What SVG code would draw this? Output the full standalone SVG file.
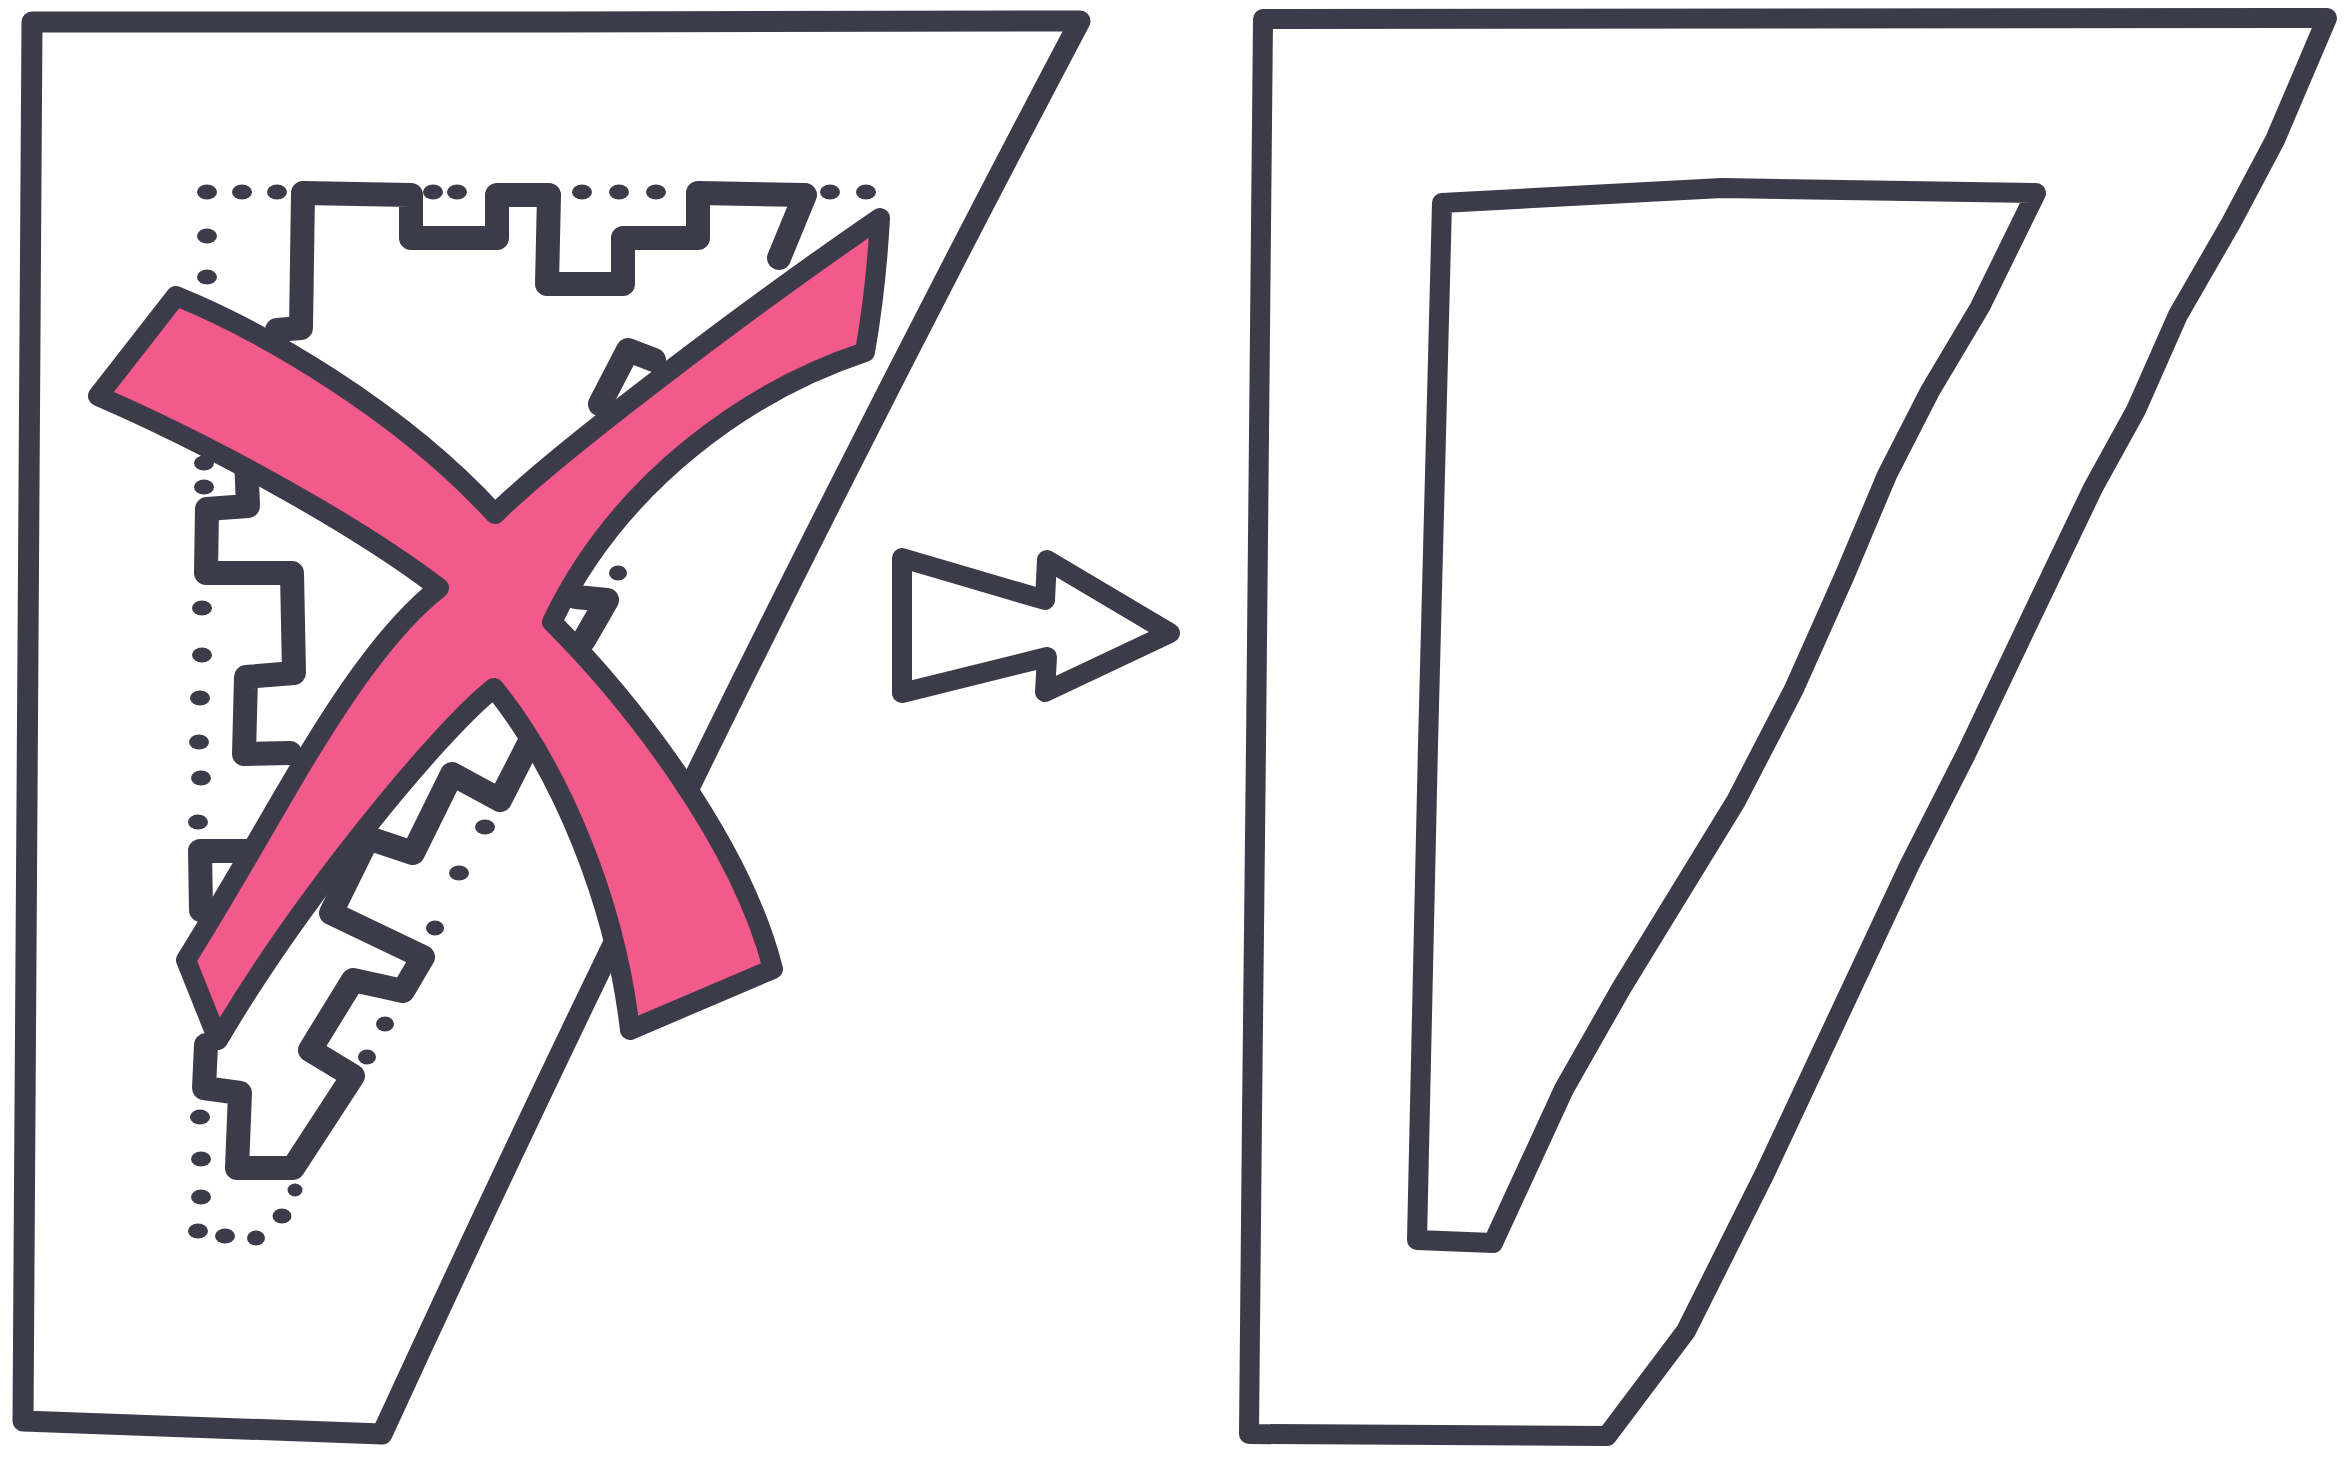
<svg xmlns="http://www.w3.org/2000/svg" width="2345" height="1460" viewBox="0 0 2345 1460">
<style>
.ink{fill:none;stroke:#3c3b4a;stroke-linejoin:round;stroke-linecap:round}
.frame{stroke-width:21px}
.thin{stroke-width:20px}
.castle{stroke-width:24px}
.cross{fill:#f15a8a;stroke:#3c3b4a;stroke-width:20px;stroke-linejoin:round}
.dot{fill:#3c3b4a}
</style>
<rect width="2345" height="1460" fill="#ffffff"/>
<g id="left-panel">
<path class="ink frame" d="M32,22 L560,22 L1080,21 Q707,727 382,1434 L23,1421 Z"/>
</g>
<g id="site-boundary-dots">
<ellipse class="dot" cx="207" cy="192" rx="10" ry="7.5"/>
<ellipse class="dot" cx="242" cy="192" rx="10" ry="7.5"/>
<ellipse class="dot" cx="277" cy="192" rx="10" ry="7.5"/>
<ellipse class="dot" cx="433" cy="192" rx="10" ry="7.5"/>
<ellipse class="dot" cx="457" cy="192" rx="10" ry="7.5"/>
<ellipse class="dot" cx="582" cy="192" rx="10" ry="7.5"/>
<ellipse class="dot" cx="619" cy="192" rx="10" ry="7.5"/>
<ellipse class="dot" cx="656" cy="192" rx="10" ry="7.5"/>
<ellipse class="dot" cx="830" cy="192" rx="10" ry="7.5"/>
<ellipse class="dot" cx="866" cy="192" rx="10" ry="7.5"/>
<ellipse class="dot" cx="207" cy="236" rx="10" ry="7.5"/>
<ellipse class="dot" cx="207" cy="277" rx="10" ry="7.5"/>
<ellipse class="dot" cx="204" cy="463" rx="10" ry="7.5"/>
<ellipse class="dot" cx="204" cy="487" rx="10" ry="7.5"/>
<ellipse class="dot" cx="202" cy="608" rx="10" ry="7.5"/>
<ellipse class="dot" cx="202" cy="655" rx="10" ry="7.5"/>
<ellipse class="dot" cx="200" cy="698" rx="10" ry="7.5"/>
<ellipse class="dot" cx="199" cy="742" rx="10" ry="7.5"/>
<ellipse class="dot" cx="201" cy="778" rx="10" ry="7.5"/>
<ellipse class="dot" cx="198" cy="822" rx="10" ry="7.5"/>
<ellipse class="dot" cx="200" cy="1117" rx="10" ry="7.5"/>
<ellipse class="dot" cx="201" cy="1159" rx="10" ry="7.5"/>
<ellipse class="dot" cx="201" cy="1197" rx="10" ry="7.5"/>
<ellipse class="dot" cx="198" cy="1231" rx="10" ry="7.5"/>
<ellipse class="dot" cx="225" cy="1236" rx="10" ry="7.5"/>
<ellipse class="dot" cx="256" cy="1238" rx="9" ry="7.5"/>
<ellipse class="dot" cx="282" cy="1216" rx="9.5" ry="7.5"/>
<ellipse class="dot" cx="295" cy="1190" rx="7.5" ry="6.5"/>
<ellipse class="dot" cx="367" cy="1057" rx="9" ry="7.5"/>
<ellipse class="dot" cx="385" cy="1024" rx="9" ry="7.5"/>
<ellipse class="dot" cx="435" cy="928" rx="9" ry="7.5"/>
<ellipse class="dot" cx="459" cy="873" rx="10" ry="7.5"/>
<ellipse class="dot" cx="485" cy="827" rx="10" ry="7.5"/>
<ellipse class="dot" cx="618" cy="573" rx="9" ry="7.5"/>
</g>
<g id="castle">
<path class="ink castle" d="M277,330 L301,328 L303,193 L411,195 L411,238 L497,238 L497,195 L549,195 L547,284 L623,284 L623,238 L698,238 L698,193 L805,195 L779,258"/>
<path class="ink castle" d="M600,404 L628,350 L654,360"/>
<path class="ink castle" d="M576,597 L607,600 L584,640"/>
<path class="ink castle" d="M246,458 L248,506 L207,509 L206,573 L292,573 L294,673 L246,677 L244,754 L290,753"/>
<path class="ink castle" d="M250,851 L200,851 L201,910"/>
<path class="ink castle" d="M540,722 L500,800 L452,774 L413,853 L368,838 L331,913 L423,957 L403,991 L353,980 L310,1050 L353,1076 L293,1168 L237,1168 L240,1093 L204,1088 L206,1045"/>
</g>
<g id="cross">
<path class="cross" d="M98,396 L176,296 C260,330 400,410 495,514 C560,450 760,300 880,218 Q876,290 865,352 C750,390 620,480 552,622 C630,700 740,840 773,969 L630,1030 C615,900 560,770 494,688 C440,730 300,900 218,1040 L186,960 C236,880 280,800 307,756 C335,710 385,630 439,588 C350,520 200,440 98,396 Z"/>
</g>
<g id="connectors">
<path id="arrow" class="ink thin" d="M902,558 L1045,600 L1047,560 L1170,633 L1045,692 L1047,657 L902,693 Z"/>
</g>
<g id="right-panel">
<path class="ink thin" d="M1263,19 L2327,18 L2275,140 L2231,223 L2178,315 L2136,410 L2093,488 L2025,630 L1966,754 L1909,866 L1832,1030 L1765,1173 L1686,1331 L1607,1436 L1249,1434 L1252,1117 L1256,745 Z"/>
<path class="ink thin" d="M1442,203 L1722,188 L2036,193 L1980,307 L1930,391 L1887,475 L1844,577 L1794,689 L1736,801 L1679,894 L1622,987 L1564,1089 L1493,1243 L1417,1240 L1428,745 Z"/>
</g>
</svg>
